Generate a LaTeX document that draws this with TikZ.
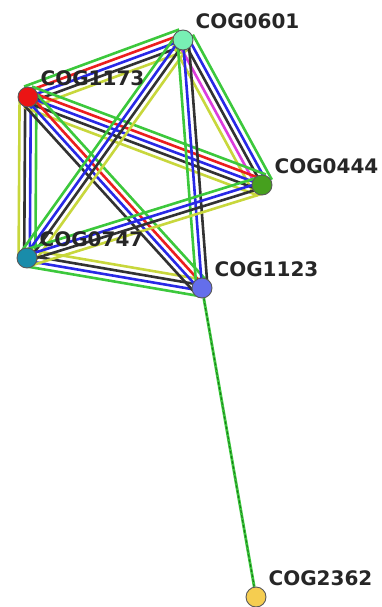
\documentclass[tikz,border=0pt]{standalone}
\usepackage{fontspec}
\setsansfont{DejaVu Sans}
\usepackage{tikz}
\usetikzlibrary{calc}
\definecolor{evgreen}{RGB}{60,200,60}
\definecolor{evdkgreen}{RGB}{25,120,25}
\definecolor{evred}{RGB}{235,30,30}
\definecolor{evblue}{RGB}{40,40,230}
\definecolor{evblack}{RGB}{50,50,50}
\definecolor{evyellow}{RGB}{200,215,60}
\definecolor{evmagenta}{RGB}{220,60,220}
\definecolor{c0601}{RGB}{120,240,180}
\definecolor{c1173}{RGB}{235,20,20}
\definecolor{c0444}{RGB}{70,160,30}
\definecolor{c0747}{RGB}{25,140,170}
\definecolor{c1123}{RGB}{100,110,235}
\definecolor{c2362}{RGB}{245,205,80}
\pgfdeclarelayer{edges}
\pgfsetlayers{edges,main}
\tikzset{cog/.style={draw=black!65, line width=0.9pt, circle, minimum size=20pt, inner sep=0pt},
    lbl/.style={font=\sffamily\bfseries\fontsize{20}{21}\selectfont, text=black!85,
        inner sep=0pt, xshift=5pt, yshift=4pt},
    strand/.style={line width=2.6pt}}
% one parallel line per evidence colour
\newcommand{\strands}[3]{%
    \foreach \col [count=\k] in {#3} {\xdef\nstr{\k}}%
    \foreach \col [count=\k] in {#3} {%
        \pgfmathsetmacro{\off}{(\k-(\nstr+1)/2)*5.6}%
        \draw[strand, \col] ($(#1)!\off pt!90:(#2)$) -- ($(#2)!\off pt!-90:(#1)$);
    }}

\begin{document}
\begin{tikzpicture}[x=1pt, y=-1pt]
    \useasboundingbox (0,0) rectangle (381,607);
    \node[cog, fill=c0601, label={[lbl]above right:COG0601}] (n0601) at (183,40) {};
    \node[cog, fill=c1173, label={[lbl]above right:COG1173}] (n1173) at (28,97) {};
    \node[cog, fill=c0444, label={[lbl]above right:COG0444}] (n0444) at (262,185) {};
    \node[cog, fill=c0747, label={[lbl]above right:COG0747}] (n0747) at (27,258) {};
    \node[cog, fill=c1123, label={[lbl]above right:COG1123}] (n1123) at (202,288) {};
    \node[cog, fill=c2362, label={[lbl]above right:COG2362}] (n2362) at (256,597) {};

    \begin{pgfonlayer}{edges}
        \strands{n1173}{n0601}{evyellow,evblack,evblue,evred,evgreen}
        \strands{n0601}{n0444}{evyellow,evmagenta,evblack,evblue,evgreen}
        \strands{n1173}{n0747}{evyellow,evblack,evblue,evgreen}
        \strands{n0747}{n1123}{evgreen,evblue,evblack,evyellow}
        \strands{n1173}{n0444}{evyellow,evblack,evblue,evred,evgreen}
        \strands{n1173}{n1123}{evblack,evblue,evred,evgreen}
        \strands{n0601}{n0747}{evgreen,evblue,evblack,evyellow}
        \strands{n0601}{n1123}{evgreen,evblue,evblack}
        \strands{n0747}{n0444}{evyellow,evblack,evblue,evgreen}
        \draw[evgreen, line width=2.8pt] (n1123) -- (n2362);
        \draw[evdkgreen, line width=1pt, dash pattern=on 3pt off 2pt] (n1123) -- (n2362);
    \end{pgfonlayer}
\end{tikzpicture}
\end{document}
